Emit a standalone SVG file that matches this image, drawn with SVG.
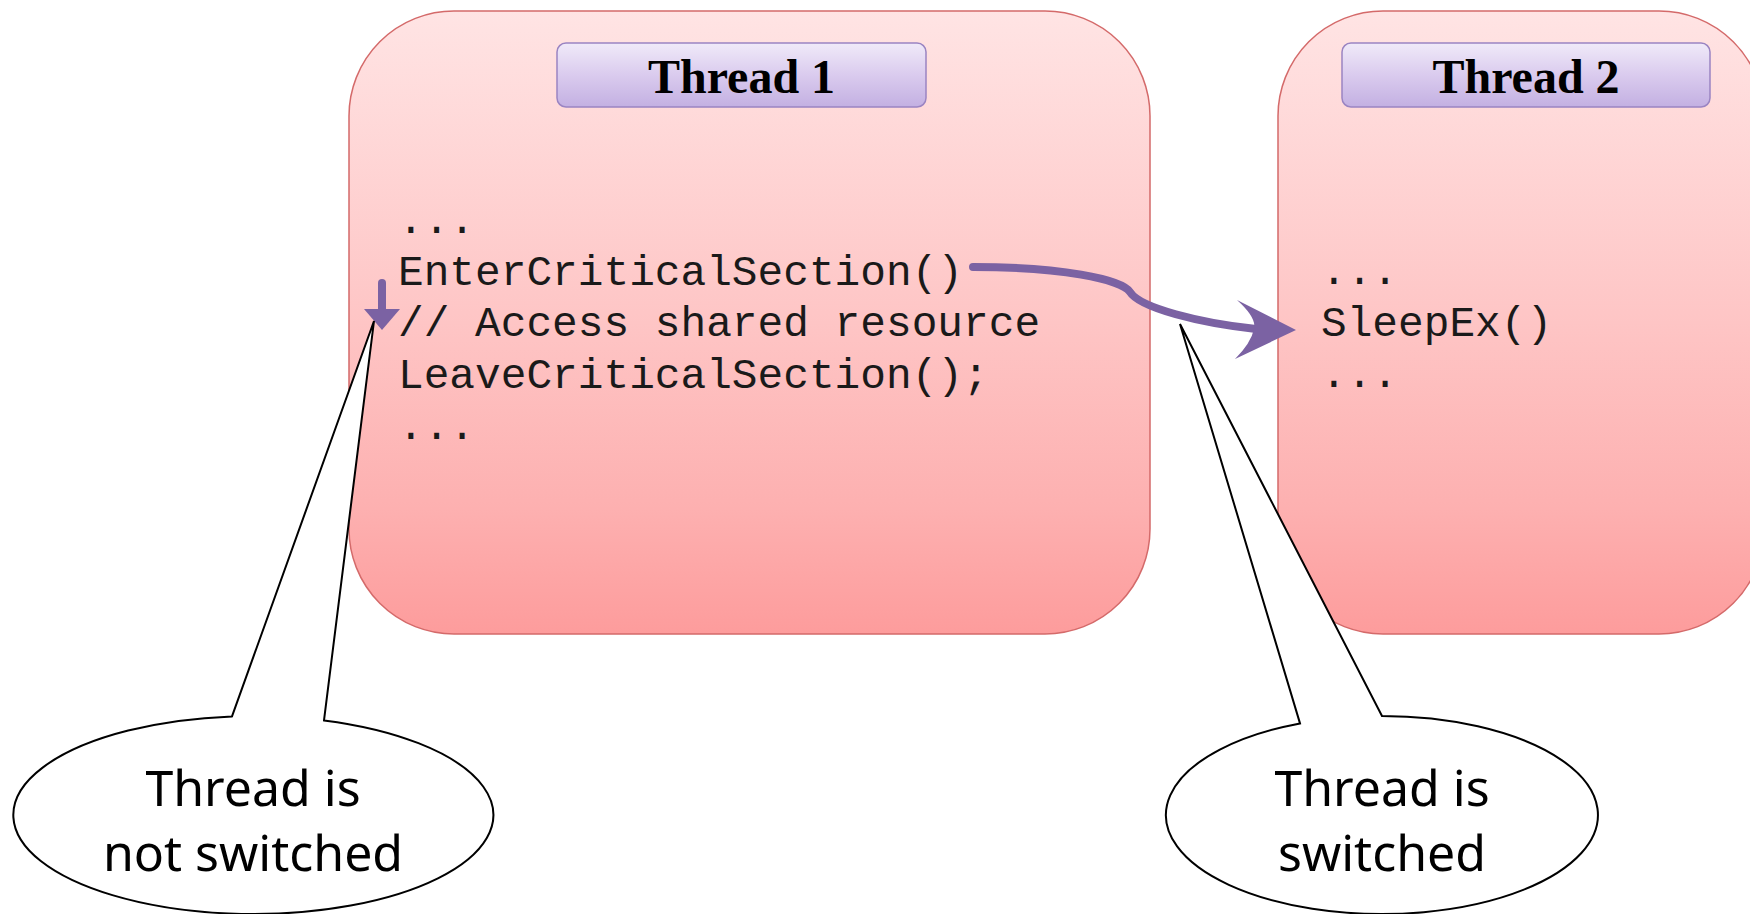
<svg xmlns="http://www.w3.org/2000/svg" width="1750" height="914" viewBox="0 0 1750 914">
  <defs>
    <linearGradient id="boxGrad" x1="0" y1="0" x2="0" y2="1">
      <stop offset="0" stop-color="#ffe4e4"/>
      <stop offset="0.5" stop-color="#fec5c5"/>
      <stop offset="0.8" stop-color="#fdb0b0"/>
      <stop offset="1" stop-color="#fd9c9c"/>
    </linearGradient>
    <linearGradient id="hdrGrad" x1="0" y1="0" x2="0" y2="1">
      <stop offset="0" stop-color="#f0eaf9"/>
      <stop offset="0.5" stop-color="#dacbee"/>
      <stop offset="1" stop-color="#c3b0e2"/>
    </linearGradient>
    <style>
      .box { fill: url(#boxGrad); stroke: #d46a6a; stroke-width: 1.5; }
      .hdr { fill: url(#hdrGrad); stroke: #9a84c2; stroke-width: 1.5; }
      .hdrText { font-family: "Liberation Serif", "Times New Roman", serif; font-weight: bold; font-size: 48px; fill: #000; text-anchor: middle; }
      .code { font-family: "Liberation Mono", "Courier New", monospace; font-size: 42.8px; fill: #1a1a1a; }
      .flow { fill: none; stroke: #7b62a3; stroke-width: 8; stroke-linecap: round; }
      .head { fill: #7b62a3; stroke: none; }
      .callout { fill: #ffffff; stroke: #000; stroke-width: 2; stroke-linejoin: miter; }
      .callText { font-family: "Noto Sans", "DejaVu Sans", sans-serif; font-size: 50px; fill: #000; text-anchor: middle; }
    </style>
  </defs>

  <g id="thread1">
    <rect class="box" x="349" y="11" width="801" height="623" rx="105" ry="105"/>
    <rect class="hdr" x="557" y="43" width="369" height="64" rx="9" ry="9"/>
    <text class="hdrText" x="741.5" y="93">Thread 1</text>
    <text class="code" x="398" y="233">...</text>
    <text class="code" x="398" y="285">EnterCriticalSection()</text>
    <text class="code" x="398" y="336">// Access shared resource</text>
    <text class="code" x="398" y="388">LeaveCriticalSection();</text>
    <text class="code" x="398" y="439">...</text>
  </g>

  <g id="thread2">
    <rect class="box" x="1278" y="11" width="486" height="623" rx="105" ry="105"/>
    <rect class="hdr" x="1342" y="43" width="368" height="64" rx="9" ry="9"/>
    <text class="hdrText" x="1526" y="93">Thread 2</text>
    <text class="code" x="1321" y="284">...</text>
    <text class="code" x="1321" y="336">SleepEx()</text>
    <text class="code" x="1321" y="387">...</text>
  </g>

  <g id="connectors">
    <path class="flow" d="M 973 267 C 1060 267 1122 279 1130 292 C 1140 308 1200 323 1256 329"/>
    <path class="head" d="M 1296 330 L 1237 300 Q 1257 318 1254 329 Q 1251 343 1235 359 Z"/>
    <path class="flow" d="M 382 283 L 382 312"/>
    <path class="head" d="M 364 309 L 400 309 L 382 330 Z"/>
  </g>

  <g id="callout-not-switched">
    <path class="callout" d="M 232 716.4 L 374 321 L 324 720.4 A 240 99 0 1 1 232 716.4 Z"/>
    <text class="callText" x="253" y="806">Thread is</text>
    <text class="callText" x="253" y="871">not switched</text>
  </g>

  <g id="callout-switched">
    <path class="callout" d="M 1300 723.4 L 1180 324 L 1382 716 A 216 99 0 1 1 1300 723.4 Z"/>
    <text class="callText" x="1382" y="806">Thread is</text>
    <text class="callText" x="1382" y="871">switched</text>
  </g>
</svg>
